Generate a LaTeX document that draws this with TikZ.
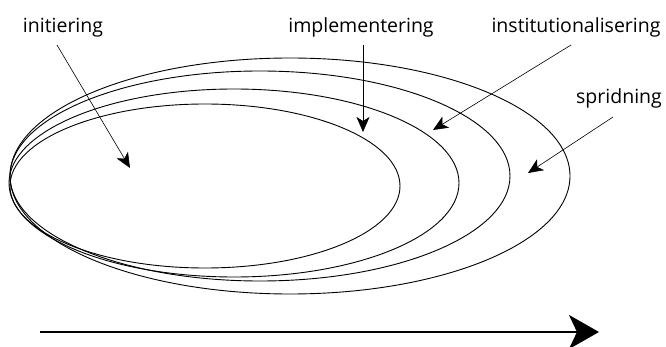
\documentclass[tikz,border=0pt]{standalone}
\usepackage{fontspec}
\setmainfont{Open Sans}
\usetikzlibrary{arrows.meta}
\begin{document}
\begin{tikzpicture}[x=1pt,y=-1pt,
  ring/.style={line width=0.9pt},
  lbl/.style={font=\fontsize{19.5}{23}\selectfont, inner sep=0pt, anchor=base},
  pointer/.style={line width=0.6pt, -{Stealth[length=15pt,width=13pt,inset=4pt]}},
  timeline/.style={line width=2.4pt, -{Stealth[length=30pt,width=34pt,inset=8pt]}}]
\useasboundingbox (0,0) rectangle (666,347);
% nested phase ellipses, all touching at the left
\draw[ring] (205,186) ellipse [x radius=195, y radius=82];
\draw[ring] (234,183) ellipse [x radius=225, y radius=94];
\draw[ring] (260,176) ellipse [x radius=250, y radius=105];
\draw[ring] (290,176) ellipse [x radius=280, y radius=118];
% labels
\node[lbl] (ini) at (63,33) {initiering};
\node[lbl] (imp) at (361,33) {implementering};
\node[lbl] (ins) at (576,33) {institutionalisering};
\node[lbl] (spr) at (619,104) {spridning};
% pointer ends
\coordinate (ini0) at (57,45);  \coordinate (ini1) at (130,168);
\coordinate (imp0) at (363,45); \coordinate (imp1) at (363,132);
\coordinate (ins0) at (571,45); \coordinate (ins1) at (433,130);
\coordinate (spr0) at (613,117);\coordinate (spr1) at (528,173);
\draw[pointer] (ini0) -- (ini1);
\draw[pointer] (imp0) -- (imp1);
\draw[pointer] (ins0) -- (ins1);
\draw[pointer] (spr0) -- (spr1);
% time axis
\coordinate (t0) at (40,332); \coordinate (t1) at (599,332);
\draw[timeline] (t0) -- (t1);
\end{tikzpicture}
\end{document}
